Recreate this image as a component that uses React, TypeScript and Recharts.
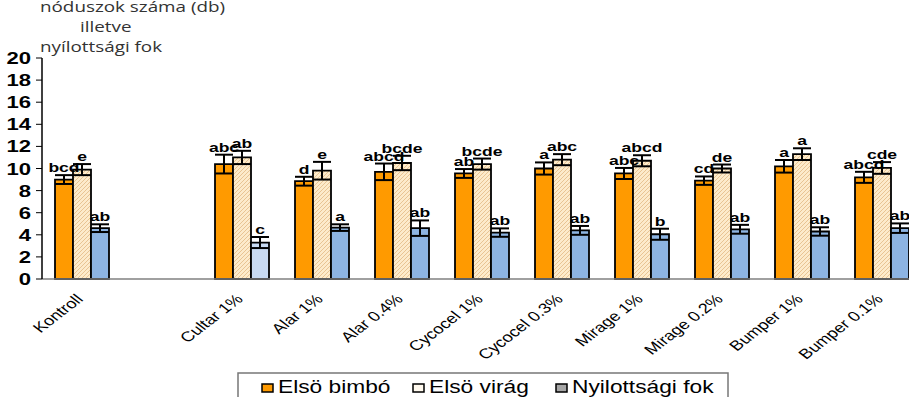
import React from 'react';
import { BarChart, Bar, XAxis, YAxis, ErrorBar, LabelList, Rectangle } from 'recharts';

// treatments (index 1 is an empty slot in the original chart)
const categories = ['Kontroll', '', 'Cultar 1%', 'Alar 1%', 'Alar 0.4%', 'Cycocel 1%', 'Cycocel 0.3%', 'Mirage 1%', 'Mirage 0.2%', 'Bumper 1%', 'Bumper 0.1%'];
const seriesNames = ['Elsö bimbó', 'Elsö virág', 'Nyilottsági fok'];

const bimbo = [9.0, null, 10.4, 8.85, 9.7, 9.55, 10.0, 9.55, 8.9, 10.2, 9.2];
const bimboErr = [0.4, null, 0.85, 0.4, 0.75, 0.4, 0.55, 0.5, 0.38, 0.57, 0.5];
const bimboLetters = ['bcd', '', 'abc', 'd', 'abcd', 'ab', 'a', 'abc', 'cd', 'a', 'abcd'];

const virag = [9.9, null, 11.0, 9.8, 10.5, 10.4, 10.8, 10.7, 10.0, 11.3, 10.05];
const viragErr = [0.5, null, 0.6, 0.8, 0.65, 0.5, 0.5, 0.5, 0.36, 0.53, 0.53];
const viragLetters = ['e', '', 'ab', 'e', 'bcde', 'bcde', 'abc', 'abcd', 'de', 'a', 'cde'];

const fok = [4.6, null, 3.3, 4.65, 4.6, 4.2, 4.4, 4.05, 4.5, 4.3, 4.6];
const fokErr = [0.35, null, 0.5, 0.3, 0.7, 0.38, 0.4, 0.5, 0.4, 0.38, 0.43];
const fokLetters = ['ab', '', 'c', 'a', 'ab', 'ab', 'ab', 'b', 'ab', 'ab', 'ab'];

const yTicks = [0, 2, 4, 6, 8, 10, 12, 14, 16, 18, 20];
const boundaryTicks = categories.map((_, i) => i).concat([categories.length]);

const data = categories.map((name, i) => ({
  i,
  name,
  bimbo: bimbo[i],
  bimboErr: bimboErr[i],
  virag: virag[i],
  viragErr: viragErr[i],
  fok: fok[i],
  fokErr: fokErr[i],
}));

const ORANGE = '#FF9A00';
const BLUE = '#8DB4E2';
const BLUE_LIGHT = '#C8DAF2';
const SX = 1.3; // the source picture is stretched horizontally
const FONT = '"Liberation Sans", Arial, sans-serif';

const letterLabel = (vals: any[], errs: any[], letters: string[]) => (props: any) => {
  const { x, y, width, height, value } = props;
  const v = vals[value];
  if (v == null || !letters[value]) return null;
  const top = y - errs[value] * (height / v);
  return (
    <text
      x={0}
      y={0}
      transform={`translate(${x + width / 2},${top - 3}) scale(${SX},1)`}
      textAnchor="middle"
      fontFamily={FONT}
      fontWeight="bold"
      fontSize={13.5}
      fill="#000"
    >
      {letters[value]}
    </text>
  );
};

// 45 degree labels, stretched like the rest of the picture
const XTick = ({ x, payload }: any) => (
  <text
    x={0}
    y={0}
    transform={`translate(${x + 2},300) scale(${SX},1) rotate(-45)`}
    textAnchor="end"
    fontFamily={FONT}
    fontSize={14}
    fill="#000"
  >
    {payload.value}
  </text>
);

const YTick = ({ x, y, payload }: any) => (
  <text
    x={0}
    y={0}
    transform={`translate(${x},${y + 6}) scale(${SX},1)`}
    textAnchor="end"
    fontFamily={FONT}
    fontWeight="bold"
    fontSize={17}
    fill="#000"
  >
    {payload.value}
  </text>
);

const FokShape = (props: any) => (
  <Rectangle {...props} fill={props.payload && props.payload.i === 2 ? BLUE_LIGHT : BLUE} />
);

const legendFills = [ORANGE, '#FFF9EE', '#A6A6A6'];
const legendMarkerX = [262, 413, 556];

export default function App() {
  return (
    <div style={{ position: 'fixed', left: 0, top: 0, width: 909, height: 397, overflow: 'hidden', background: '#fff' }}>
      <svg width={0} height={0} style={{ position: 'absolute' }}>
        <defs>
          <pattern id="hatch" patternUnits="userSpaceOnUse" width={4} height={4}>
            <rect width={4} height={4} fill="#FDEBCB" />
            <path d="M-1,1 L1,-1 M0,4 L4,0 M3,5 L5,3" stroke="#E5C08C" strokeWidth={0.9} />
          </pattern>
        </defs>
      </svg>
      <div style={{ position: 'absolute', left: 0, top: 0 }}>
        <BarChart
          width={930}
          height={397}
          data={data}
          margin={{ top: 58, right: 8, left: 0, bottom: 0 }}
          barGap={0}
        >
          <XAxis
            xAxisId="edge"
            type="number"
            domain={[0, categories.length]}
            ticks={boundaryTicks}
            tick={false}
            tickSize={6}
            tickLine={{ stroke: '#808080' }}
            axisLine={false}
            height={0}
            allowDataOverflow
          />
          <XAxis
            dataKey="name"
            interval={0}
            height={118}
            tickLine={false}
            axisLine={{ stroke: '#808080', strokeWidth: 1.5 }}
            tick={<XTick />}
          />
          <YAxis
            domain={[0, 20]}
            ticks={yTicks}
            interval={0}
            width={42}
            tickSize={6}
            tickMargin={5}
            axisLine={{ stroke: '#000', strokeWidth: 1.5 }}
            tickLine={{ stroke: '#000' }}
            tick={<YTick />}
          />
          <Bar dataKey="bimbo" barSize={18} fill={ORANGE} stroke="#000" strokeWidth={1.8} isAnimationActive={false}>
            <ErrorBar dataKey="bimboErr" width={9} stroke="#000" strokeWidth={2} />
            <LabelList dataKey="i" content={letterLabel(bimbo, bimboErr, bimboLetters)} />
          </Bar>
          <Bar dataKey="virag" barSize={18} fill="url(#hatch)" stroke="#000" strokeWidth={1.8} isAnimationActive={false}>
            <ErrorBar dataKey="viragErr" width={9} stroke="#000" strokeWidth={2} />
            <LabelList dataKey="i" content={letterLabel(virag, viragErr, viragLetters)} />
          </Bar>
          <Bar dataKey="fok" barSize={18} fill={BLUE} stroke="#000" strokeWidth={1.8} shape={FokShape} isAnimationActive={false}>
            <ErrorBar dataKey="fokErr" width={9} stroke="#000" strokeWidth={2} />
            <LabelList dataKey="i" content={letterLabel(fok, fokErr, fokLetters)} />
          </Bar>
        </BarChart>
      </div>
      <svg width={909} height={397} style={{ position: 'absolute', left: 0, top: 0, pointerEvents: 'none' }}>
        <g fontFamily='"Open Sans", sans-serif' fontSize={14.5} fill="#333">
          <text transform={`translate(40,12) scale(${SX},1)`}>nóduszok száma (db)</text>
          <text transform={`translate(80,32) scale(${SX},1)`}>illetve</text>
          <text transform={`translate(40,52) scale(${SX},1)`}>nyílottsági fok</text>
        </g>
        <rect x={238} y={373} width={490} height={40} fill="#fff" stroke="#777" strokeWidth={1.5} />
        {seriesNames.map((s, k) => (
          <g key={s}>
            <rect x={legendMarkerX[k]} y={384} width={11} height={8} fill={legendFills[k]} stroke="#000" strokeWidth={1.5} />
            <text
              transform={`translate(${legendMarkerX[k] + 16},393) scale(${SX},1)`}
              fontFamily={FONT}
              fontSize={17.5}
              fill="#000"
            >
              {s}
            </text>
          </g>
        ))}
      </svg>
    </div>
  );
}
